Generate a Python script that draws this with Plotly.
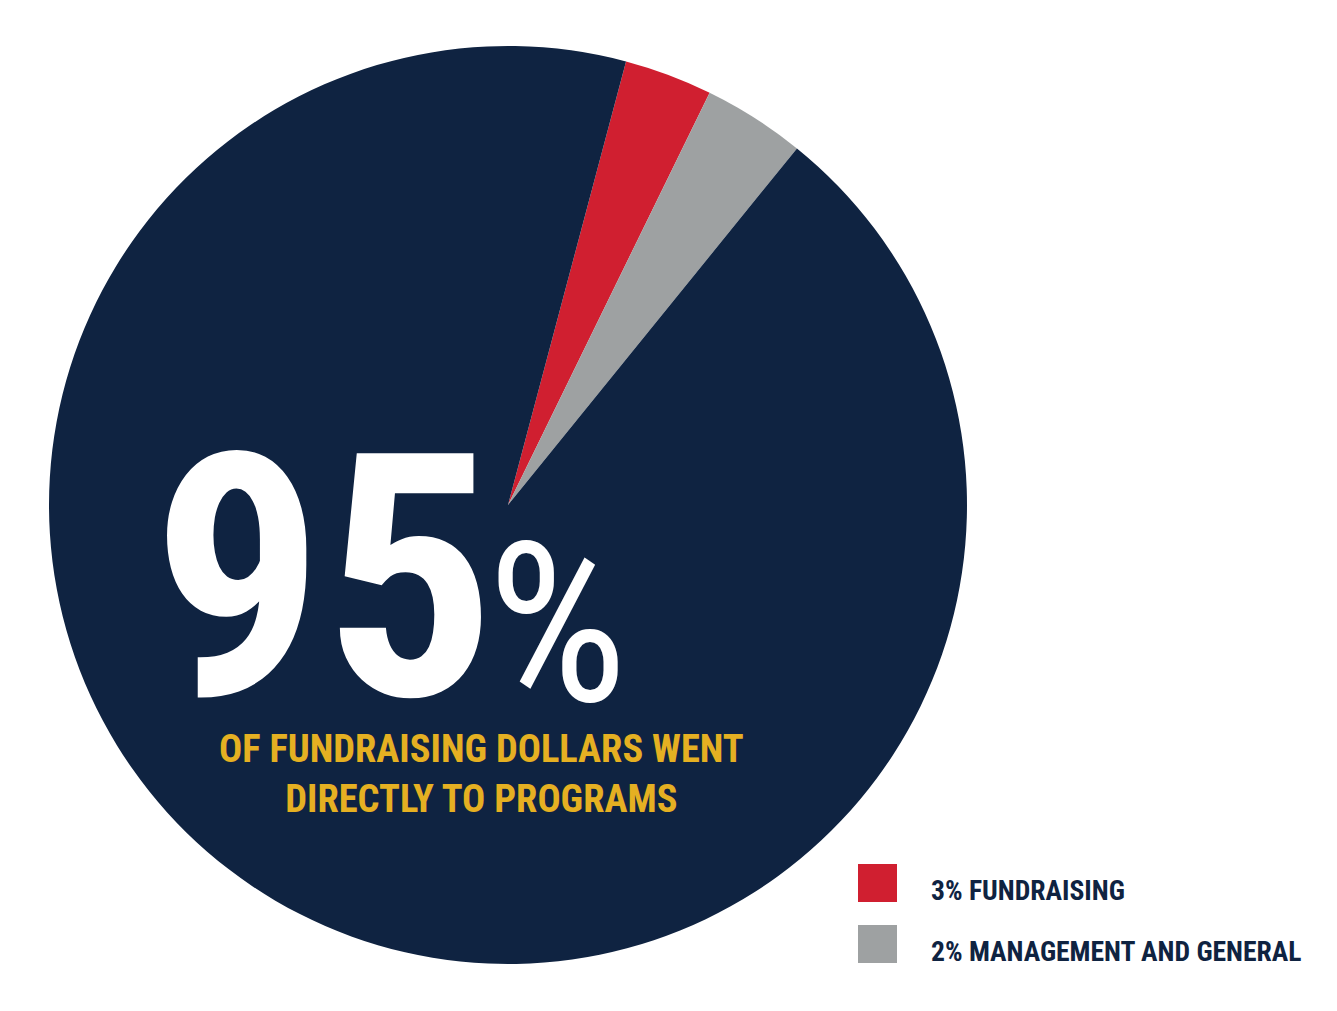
import plotly.graph_objects as go

# slices as drawn, clockwise from the red one
slice_names = ["Fundraising", "Management and general", "Programs"]
slice_share = [3.1, 3.6, 93.3]
slice_colors = ["#D01F30", "#9EA1A2", "#0F2341"]

legend_labels = ["3% FUNDRAISING", "2% MANAGEMENT AND GENERAL"]
legend_colors = ["#D01F30", "#9EA1A2"]

big_number = "95"
sub_text = "OF FUNDRAISING DOLLARS WENT<br>DIRECTLY TO PROGRAMS"

W, H = 1337, 1011
OFF = 8  # body margin of the html page
FONT = "Roboto Condensed, Liberation Sans Narrow, DejaVu Sans Condensed, Roboto, sans-serif"
NAVY = "#0F2341"
GOLD = "#E5B022"

def px(x):
    return (x - OFF) / W

def py(y):
    return 1 - (y - OFF) / H

fig = go.Figure()
fig.add_trace(go.Pie(
    labels=slice_names, values=slice_share,
    marker=dict(colors=slice_colors, line=dict(width=0)),
    sort=False, direction="clockwise", rotation=14.9,
    textinfo="none", hoverinfo="label", showlegend=False,
    domain=dict(x=[px(49), px(967)], y=[py(964), py(46)]),
))

# big 95 and the smaller % sign
fig.add_annotation(text="<b>" + big_number + "</b>", x=px(498), y=py(579),
                   xref="paper", yref="paper", xanchor="right", yanchor="middle",
                   showarrow=False, font=dict(family=FONT, size=340, color="white"))
fig.add_annotation(text="%", x=px(485), y=py(625),
                   xref="paper", yref="paper", xanchor="left", yanchor="middle",
                   showarrow=False, font=dict(family=FONT, size=222, color="white"))
fig.add_annotation(text="<b>" + sub_text + "</b>", x=px(481), y=py(773),
                   xref="paper", yref="paper", xanchor="center", yanchor="middle",
                   align="center", showarrow=False,
                   font=dict(family=FONT, size=38.5, color=GOLD))

# legend boxes + labels
ys = [883, 944]
for lab, col, y in zip(legend_labels, legend_colors, ys):
    fig.add_shape(type="rect", xref="paper", yref="paper",
                  x0=px(858), x1=px(897), y0=py(y - 19), y1=py(y + 19),
                  fillcolor=col, line=dict(width=0))
    fig.add_annotation(text="<b>" + lab + "</b>", x=px(929), y=py(y + 7),
                       xref="paper", yref="paper", xanchor="left", yanchor="middle",
                       showarrow=False, font=dict(family=FONT, size=27.6, color=NAVY))

fig.update_layout(width=W, height=H, margin=dict(l=0, r=0, t=0, b=0),
                  paper_bgcolor="white", plot_bgcolor="white")

fig.write_html("out.html")
